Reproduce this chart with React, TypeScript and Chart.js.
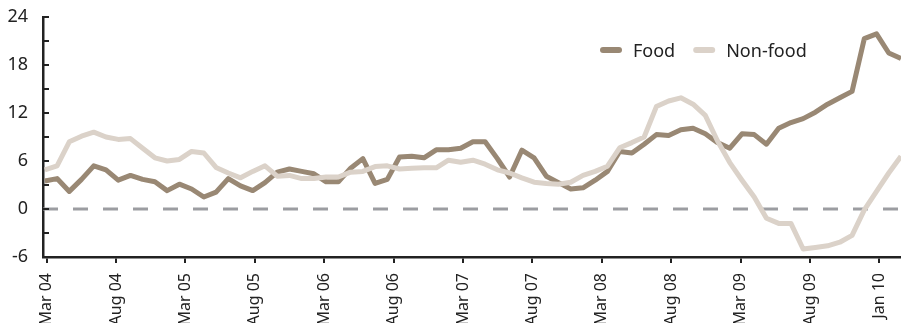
import React, { useEffect, useRef } from "react";
import { Chart, registerables } from "chart.js";

Chart.register(...registerables);

// Month-by-month values, Mar 04 .. Jan 10
const food = [
  3.5, 3.8, 2.2, 3.7, 5.4, 4.9, 3.6, 4.2, 3.7, 3.4,
  2.3, 3.1, 2.5, 1.5, 2.1, 3.8, 2.9, 2.3, 3.3, 4.6,
  5.0, 4.7, 4.4, 3.4, 3.4, 5.1, 6.3, 3.2, 3.7, 6.5,
  6.6, 6.4, 7.4, 7.4, 7.6, 8.4, 8.4, 6.3, 4.0, 7.35,
  6.4, 4.1, 3.3, 2.5, 2.65, 3.6, 4.7, 7.2, 7.0, 8.1,
  9.3, 9.2, 9.9, 10.1, 9.4, 8.3, 7.6, 9.4, 9.3, 8.1,
  10.1, 10.8, 11.3, 12.1, 13.1, 13.9, 14.7, 21.3, 21.9, 19.5, 18.8,
];

const nonFood = [
  4.9, 5.4, 8.4, 9.1, 9.6, 9.0, 8.7, 8.8, 7.6, 6.4,
  6.0, 6.2, 7.2, 7.0, 5.2, 4.5, 3.9, 4.7, 5.4, 4.1,
  4.2, 3.8, 3.8, 4.0, 4.0, 4.6, 4.7, 5.3, 5.4, 5.0,
  5.1, 5.15, 5.15, 6.1, 5.85, 6.1, 5.6, 4.9, 4.5, 3.9,
  3.35, 3.2, 3.1, 3.35, 4.2, 4.7, 5.35, 7.65, 8.3, 9.0,
  12.8, 13.5, 13.9, 13.1, 11.7, 8.5, 5.8, 3.6, 1.5, -1.15,
  -1.8, -1.8, -5.0, -4.8, -4.6, -4.15, -3.3, -0.1, 2.2, 4.5, 6.6,
];

const tickLabels = [
  "Mar 04", "Aug 04", "Mar 05", "Aug 05", "Mar 06", "Aug 06", "Mar 07",
  "Aug 07", "Mar 08", "Aug 08", "Mar 09", "Aug 09", "Jan 10",
];

const seriesNames = ["Food", "Non-food"];
const seriesColors = ["#998874", "#dbd2c9"];

const FONT = "'Noto Sans', 'DejaVu Sans', sans-serif";
const tickStart = 0.15;
const tickStep = 5.674;

const decor = {
  id: "decor",
  beforeDatasetsDraw(chart: any) {
    const { ctx, chartArea, scales } = chart;
    const y0 = scales.y.getPixelForValue(0);
    ctx.save();
    ctx.strokeStyle = "#9c9da1";
    ctx.lineWidth = 3;
    ctx.setLineDash([15, 15]);
    ctx.beginPath();
    ctx.moveTo(chartArea.left, y0);
    ctx.lineTo(chartArea.right, y0);
    ctx.stroke();
    ctx.restore();
  },
  afterDraw(chart: any) {
    const { ctx, chartArea, scales } = chart;
    ctx.save();
    // inner y tick marks every 3 units
    ctx.strokeStyle = "#222";
    ctx.lineWidth = 2;
    for (let v = -3; v <= 24; v += 3) {
      const y = Math.round(scales.y.getPixelForValue(v));
      ctx.beginPath();
      ctx.moveTo(chartArea.left, y);
      ctx.lineTo(chartArea.left + 6, y);
      ctx.stroke();
    }
    // legend
    ctx.font = `18px ${FONT}`;
    ctx.textBaseline = "alphabetic";
    ctx.textAlign = "left";
    let x = chartArea.right - 298;
    const ly = chartArea.top + 33;
    seriesNames.forEach((name, i) => {
      ctx.strokeStyle = seriesColors[i];
      ctx.lineWidth = 6;
      ctx.lineCap = "round";
      ctx.beginPath();
      ctx.moveTo(x, ly);
      ctx.lineTo(x + 16, ly);
      ctx.stroke();
      ctx.fillStyle = "#222";
      const tx = x + 30;
      ctx.fillText(name, tx, ly + 7);
      x = tx + ctx.measureText(name).width + 21;
    });
    ctx.restore();
  },
};

export default function App() {
  const ref = useRef<HTMLCanvasElement>(null);

  useEffect(() => {
    document.body.style.margin = "0";
    const canvas = ref.current;
    if (!canvas) return;
    const chart = new Chart(canvas, {
      type: "line",
      data: {
        datasets: [
          {
            label: seriesNames[0],
            data: food.map((v, i) => ({ x: i, y: v })),
            borderColor: seriesColors[0],
            borderWidth: 5,
            pointRadius: 0,
            tension: 0,
            borderJoinStyle: "round",
            order: 1,
          },
          {
            label: seriesNames[1],
            data: nonFood.map((v, i) => ({ x: i, y: v })),
            borderColor: seriesColors[1],
            borderWidth: 5,
            pointRadius: 0,
            tension: 0,
            borderJoinStyle: "round",
            order: 0,
          },
        ],
      },
      options: {
        animation: false,
        responsive: true,
        maintainAspectRatio: false,
        devicePixelRatio: 1,
        layout: { autoPadding: false, padding: { top: 17, right: 0, left: 0, bottom: 0 } },
        plugins: {
          legend: { display: false },
          tooltip: { enabled: false },
        },
        scales: {
          x: {
            type: "linear",
            min: -0.15,
            max: food.length - 1,
            afterBuildTicks: (scale: any) => {
              scale.ticks = tickLabels.map((_, k) => ({ value: tickStart + k * tickStep }));
            },
            afterFit: (scale: any) => {
              scale.height = 66;
              scale.paddingLeft = 0;
              scale.paddingRight = 0;
            },
            ticks: {
              autoSkip: false,
              minRotation: 90,
              maxRotation: 90,
              padding: 10,
              color: "#222",
              font: { family: FONT, size: 16 },
              callback: (_v: any, index: number) => tickLabels[index],
            },
            grid: {
              display: true,
              drawOnChartArea: false,
              drawTicks: true,
              tickLength: 6,
              color: "#222",
              lineWidth: 2,
            },
            border: { display: true, color: "#222", width: 2.5 },
          },
          y: {
            min: -6,
            max: 24,
            ticks: {
              stepSize: 6,
              padding: 15,
              color: "#222",
              font: { family: FONT, size: 18 },
            },
            afterFit: (scale: any) => {
              scale.width = 43;
              scale.paddingTop = 0;
              scale.paddingBottom = 0;
            },
            grid: { display: false, drawTicks: false },
            border: { display: true, color: "#222", width: 2.5 },
          },
        },
      },
      plugins: [decor],
    });
    return () => chart.destroy();
  }, []);

  return (
    <div style={{ width: 901, height: 323, position: "relative" }}>
      <canvas ref={ref} />
    </div>
  );
}
